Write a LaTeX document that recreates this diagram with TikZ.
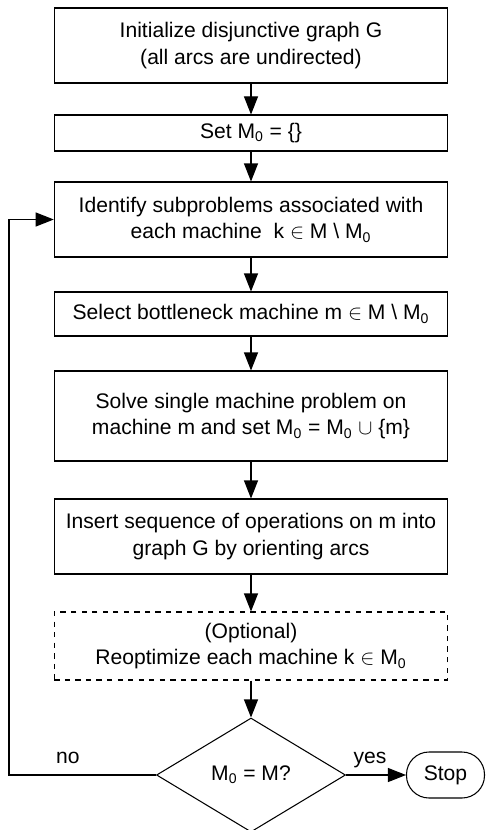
\documentclass[tikz,border=0pt]{standalone}
\usepackage{fontspec}
\setmainfont{Liberation Sans}
\usetikzlibrary{arrows.meta, shapes.geometric}

\newcommand{\Mnull}{M\textsubscript{0}}

\begin{document}
\begin{tikzpicture}[font=\fontsize{12}{15.3}\selectfont, line width=0.6pt,
        >={Triangle[length=3.6mm, width=2.8mm]},
        box/.style={draw, minimum width=7.87cm, align=center, inner sep=0pt},
        decision/.style={draw, diamond, minimum width=3.78cm,
                         minimum height=2.28cm, inner sep=0pt},
        stopbox/.style={draw, rounded corners=0.45cm, minimum width=1.56cm,
                        minimum height=0.92cm},
        lbl/.style={above=3pt, text depth=0pt}]
      \useasboundingbox (-5.02,0) rectangle (4.68,-16.6);
      \node[box, minimum height=1.5cm]  (init)   at (0,-0.91)  {Initialize disjunctive graph G\\(all arcs are undirected)};
      \node[box, minimum height=0.72cm] (empty)  at (0,-2.66)  {Set \Mnull{} = \{\}};
      \node[box, minimum height=1.5cm]  (ident)  at (0,-4.39)  {Identify subproblems associated with\\each machine~ k $\in$ M \textbackslash{} \Mnull};
      \node[box, minimum height=0.88cm] (select) at (0,-6.28)  {Select bottleneck machine m $\in$ M \textbackslash{} \Mnull};
      \node[box, minimum height=1.8cm]  (solve)  at (0,-8.32)  {Solve single machine problem on\\machine m and set \Mnull{} = \Mnull{} $\cup$ \{m\}};
      \node[box, minimum height=1.5cm]  (insert) at (0,-10.73) {Insert sequence of operations on m into\\graph G by orienting arcs};
      \node[box, minimum height=1.36cm, dashed] (reopt) at (0,-12.92) {(Optional)\\Reoptimize each machine k $\in$ \Mnull};
      \node[decision] (check) at (0,-15.5)    {\Mnull{} = M?};
      \node[stopbox]  (stop)  at (3.89,-15.5) {Stop};
      \coordinate (back) at (-4.84,-15.5);
      \draw[->] (init)   -- (empty);
      \draw[->] (empty)  -- (ident);
      \draw[->] (ident)  -- (select);
      \draw[->] (select) -- (solve);
      \draw[->] (solve)  -- (insert);
      \draw[->] (insert) -- (reopt);
      \draw[->] (reopt)  -- (check);
      \draw[->] (check)  -- node[lbl, pos=0.4]{yes} (stop);
      \draw[->] (check)  -- node[lbl, pos=0.6]{no} (back) |- (ident);
    \end{tikzpicture}
\end{document}
